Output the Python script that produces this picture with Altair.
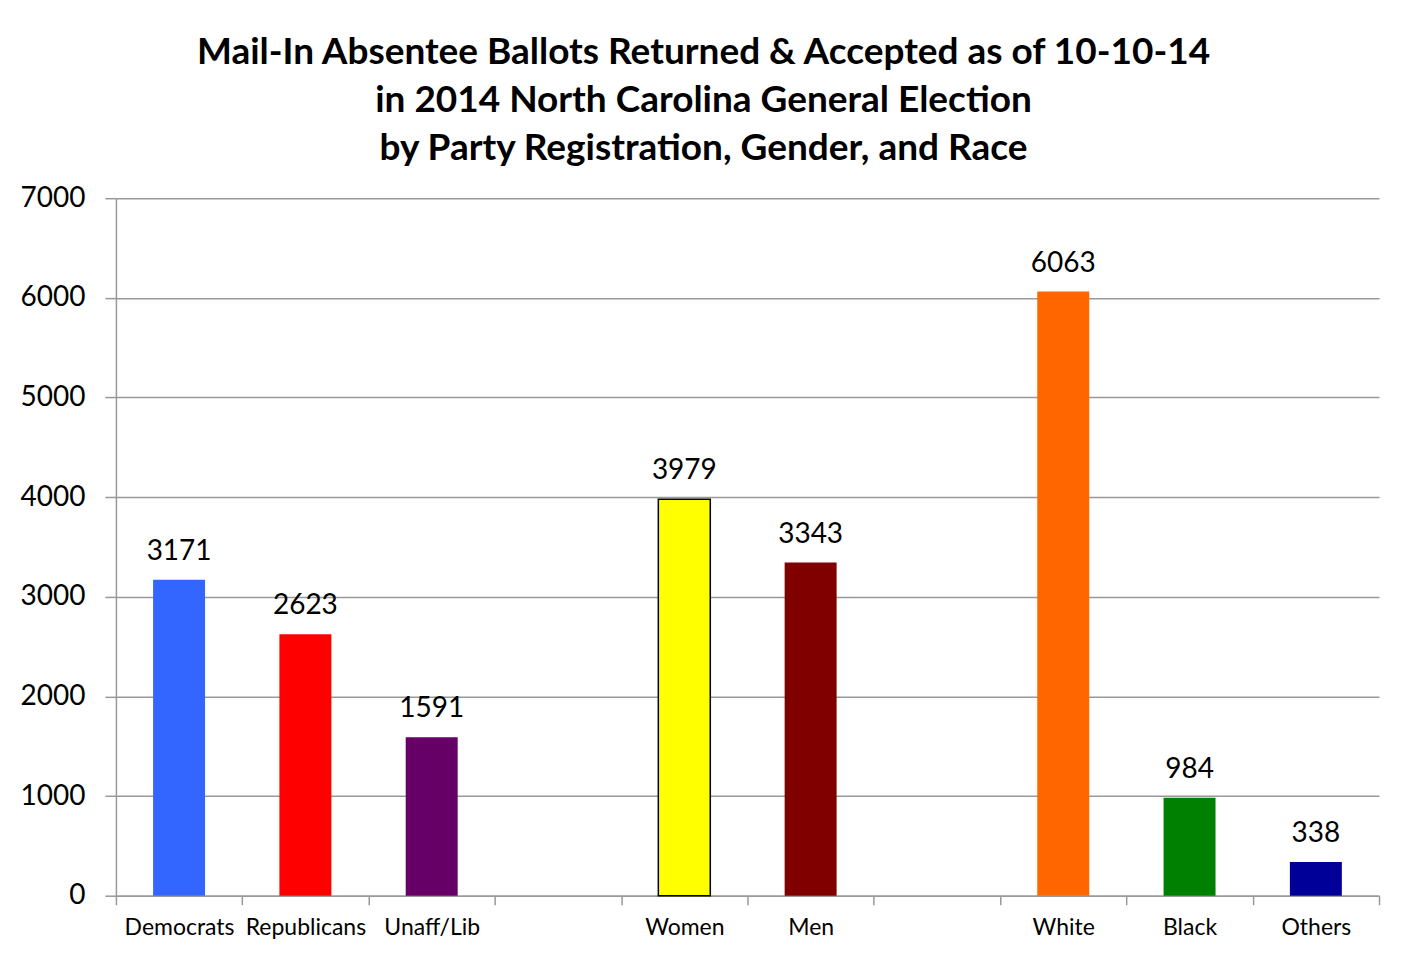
import altair as alt
import pandas as pd

# categories incl. two blank slots used as gaps
categories = ["Democrats", "Republicans", "Unaff/Lib", " ", "Women", "Men", "  ", "White", "Black", "Others"]
bar_cats = ["Democrats", "Republicans", "Unaff/Lib", "Women", "Men", "White", "Black", "Others"]
ballots = [3171, 2623, 1591, 3979, 3343, 6063, 984, 338]
bar_colors = ["#3366FF", "#FF0000", "#660066", "#FFFF00", "#800000", "#FF6600", "#008000", "#000099"]

title_lines = [
    "Mail-In Absentee Ballots Returned & Accepted as of 10-10-14",
    "in 2014 North Carolina General Election",
    "by Party Registration, Gender, and Race",
]

df = pd.DataFrame({"group": bar_cats, "ballots": ballots, "barcolor": bar_colors})

FONT = "Lato"
GRAY = "#999999"

x_enc = alt.X(
    "group:N",
    sort=categories,
    scale=alt.Scale(domain=categories, paddingInner=0, paddingOuter=0),
    axis=alt.Axis(
        title=None,
        labelAngle=0,
        labelFontSize=23,
        labelFont=FONT,
        labelColor="#000000",
        labelPadding=12,
        tickBand="extent",
        tickSize=9,
        tickColor=GRAY,
        tickWidth=1.5,
        domainColor=GRAY,
        domainWidth=1.5,
        grid=False,
    ),
)

y_enc = alt.Y(
    "ballots:Q",
    scale=alt.Scale(domain=[0, 7000], nice=False),
    axis=alt.Axis(
        title=None,
        tickCount=7,
        format="d",
        labelFontSize=28,
        labelFont=FONT,
        labelColor="#000000",
        labelPadding=20,
        tickSize=11,
        tickColor=GRAY,
        tickWidth=1.5,
        domainColor=GRAY,
        domainWidth=1.5,
        gridColor=GRAY,
        gridWidth=1.5,
    ),
)

base = alt.Chart(df).encode(x=x_enc, y=y_enc)

bars = base.mark_bar(size=52, stroke="#000000").encode(
    color=alt.Color("barcolor:N", scale=None),
    strokeWidth=alt.condition(alt.datum.group == "Women", alt.value(1.5), alt.value(0)),
)

labels = base.mark_text(dy=-28, fontSize=28, font=FONT, color="#000000").encode(
    text=alt.Text("ballots:Q")
)

chart = (
    alt.layer(bars, labels)
    .properties(
        width=1264,
        height=698,
        padding={"left": 12, "top": 26, "right": 20, "bottom": 20},
        title=alt.TitleParams(
            text=title_lines,
            font=FONT,
            fontSize=37,
            fontWeight="bold",
            color="#000000",
            lineHeight=48,
            anchor="middle",
            dx=-44,
            offset=16,
        ),
    )
    .configure_view(stroke=None)
)

chart.save("out.html", embed_options={"renderer": "svg", "actions": False})
